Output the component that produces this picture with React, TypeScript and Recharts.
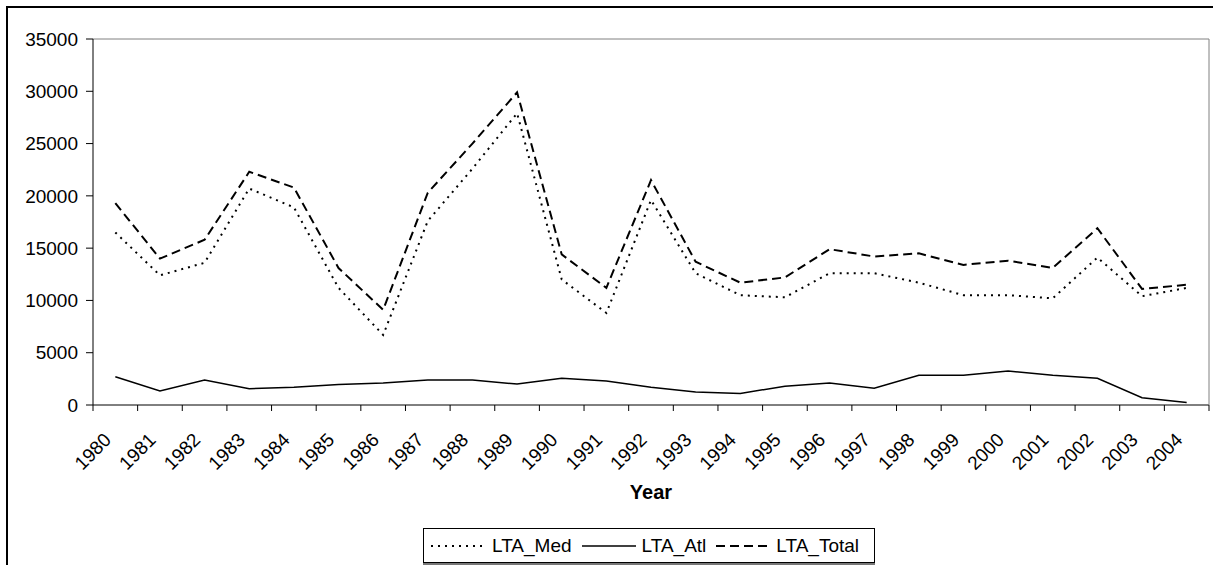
import React from 'react';
import { LineChart, Line, XAxis, YAxis, Legend, ReferenceLine } from 'recharts';

const YEARS = [
  '1980', '1981', '1982', '1983', '1984', '1985', '1986', '1987', '1988', '1989',
  '1990', '1991', '1992', '1993', '1994', '1995', '1996', '1997', '1998', '1999',
  '2000', '2001', '2002', '2003', '2004',
];

const LTA_MED = [
  16500, 12400, 13600, 20700, 18900, 11200, 6700, 17600, 22600, 27900,
  12000, 8800, 19600, 12600, 10500, 10300, 12600, 12600, 11700, 10500,
  10500, 10200, 14100, 10400, 11200,
];

const LTA_ATL = [
  2700, 1350, 2400, 1550, 1700, 1950, 2100, 2400, 2400, 2000,
  2550, 2300, 1700, 1250, 1100, 1800, 2100, 1600, 2850, 2850,
  3250, 2850, 2550, 700, 250,
];

const LTA_TOTAL = [
  19300, 14000, 15800, 22300, 20800, 13100, 9100, 20300, 25000, 29900,
  14400, 11200, 21500, 13700, 11700, 12200, 14900, 14200, 14500, 13400,
  13800, 13100, 16900, 11100, 11500,
];

const Y_TICKS = [0, 5000, 10000, 15000, 20000, 25000, 30000, 35000];

const FONT = '"Liberation Sans", Arial, sans-serif';

// layout
const CHART_W = 1213;
const CHART_H = 565;
const PLOT_LEFT = 93;
const PLOT_TOP = 39;
const PLOT_RIGHT = 1209;
const PLOT_BOTTOM = 405;
const BAND = (PLOT_RIGHT - PLOT_LEFT) / YEARS.length;

const data = YEARS.map((year, i) => ({
  year,
  LTA_Med: LTA_MED[i],
  LTA_Atl: LTA_ATL[i],
  LTA_Total: LTA_TOTAL[i],
}));

const YearTick = (props: any) => {
  const { x, payload, index } = props;
  const left = x - BAND / 2;
  const tx = x - 3;
  const ty = PLOT_BOTTOM + 36;
  return (
    <g>
      <line x1={left} y1={PLOT_BOTTOM} x2={left} y2={PLOT_BOTTOM + 6} stroke="#000" />
      {index === YEARS.length - 1 && (
        <line x1={x + BAND / 2} y1={PLOT_BOTTOM} x2={x + BAND / 2} y2={PLOT_BOTTOM + 6} stroke="#000" />
      )}
      <text
        x={tx}
        y={ty}
        transform={`rotate(-45 ${tx} ${ty})`}
        textAnchor="end"
        fontSize={19}
        fontFamily={FONT}
        fill="#000"
      >
        {payload.value}
      </text>
    </g>
  );
};

const legendItems = [
  { name: 'LTA_Med', dash: '2 5', width: 2, len: 52, gapAfter: 9 },
  { name: 'LTA_Atl', dash: undefined, width: 1.5, len: 54, gapAfter: 6 },
  { name: 'LTA_Total', dash: '9 5', width: 2, len: 56, gapAfter: 4 },
];

const renderLegend = () => (
  <div
    style={{
      boxSizing: 'border-box',
      width: 452,
      height: 35,
      border: '1px solid #000',
      boxShadow: '0 2px 0 #777',
      background: '#fff',
      display: 'flex',
      alignItems: 'center',
      paddingLeft: 7,
      fontFamily: FONT,
      fontSize: 19,
      color: '#000',
      whiteSpace: 'nowrap',
    }}
  >
    {legendItems.map((it) => (
      <div key={it.name} style={{ display: 'flex', alignItems: 'center', marginRight: 10 }}>
        <svg width={it.len} height={6} style={{ marginRight: it.gapAfter }}>
          <line x1={0} y1={3} x2={it.len} y2={3} stroke="#000" strokeWidth={it.width} strokeDasharray={it.dash} />
        </svg>
        <span>{it.name}</span>
      </div>
    ))}
  </div>
);

export default function App() {
  return (
    <div
      style={{
        position: 'absolute',
        left: 0,
        top: 0,
        width: CHART_W,
        height: CHART_H,
        overflow: 'hidden',
        background: '#fff',
      }}
    >
      <div
        style={{
          position: 'absolute',
          left: 6,
          top: 6,
          width: 1400,
          height: 800,
          borderLeft: '2px solid #000',
          borderTop: '2px solid #000',
        }}
      />
      <div style={{ position: 'absolute', left: 0, top: 0 }}>
        <LineChart
          width={CHART_W}
          height={CHART_H}
          data={data}
          margin={{ top: PLOT_TOP, right: 3, left: 0, bottom: 60 }}
        >
          <XAxis
            dataKey="year"
            interval={0}
            height={100}
            padding={{ left: BAND / 2, right: BAND / 2 }}
            tickLine={false}
            axisLine={{ stroke: '#000' }}
            tick={<YearTick />}
            label={{
              value: 'Year',
              position: 'insideBottom',
              offset: 6,
              fontSize: 20,
              fontWeight: 'bold',
              fontFamily: FONT,
              fill: '#000',
            }}
          />
          <YAxis
            width={PLOT_LEFT}
            domain={[0, 35000]}
            ticks={Y_TICKS}
            interval={0}
            tickSize={7}
            tickMargin={8}
            axisLine={{ stroke: '#000' }}
            tickLine={{ stroke: '#000' }}
            tick={{ fontSize: 19, fontFamily: FONT, fill: '#000' }}
          />
          <YAxis
            yAxisId="frame"
            orientation="right"
            width={1}
            tick={false}
            tickLine={false}
            axisLine={{ stroke: '#808080' }}
          />
          <ReferenceLine y={35000} stroke="#808080" />
          <Legend
            layout="vertical"
            align="center"
            verticalAlign="middle"
            content={renderLegend}
            wrapperStyle={{ position: 'absolute', left: 423, top: 528, width: 452, height: 35 }}
          />
          <Line
            type="linear"
            dataKey="LTA_Med"
            stroke="#000"
            strokeWidth={2}
            strokeDasharray="2 5"
            dot={false}
            activeDot={false}
            isAnimationActive={false}
          />
          <Line
            type="linear"
            dataKey="LTA_Atl"
            stroke="#000"
            strokeWidth={1.5}
            dot={false}
            activeDot={false}
            isAnimationActive={false}
          />
          <Line
            type="linear"
            dataKey="LTA_Total"
            stroke="#000"
            strokeWidth={2}
            strokeDasharray="9 5"
            dot={false}
            activeDot={false}
            isAnimationActive={false}
          />
        </LineChart>
      </div>
    </div>
  );
}
